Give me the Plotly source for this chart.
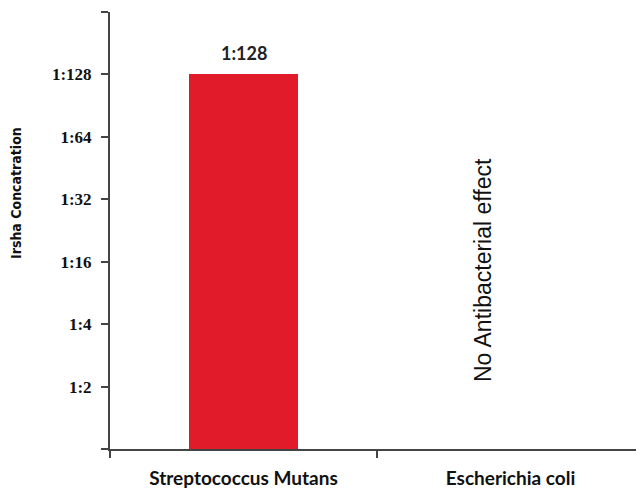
import plotly.graph_objects as go

categories = ["Streptococcus Mutans", "Escherichia coli"]
values = [6, None]
bar_labels = ["1:128", ""]
tick_positions = [0, 1, 2, 3, 4, 5, 6, 7]
tick_labels = ["", "1:2", "1:4", "1:16", "1:32", "1:64", "1:128", ""]
no_effect_text = "No Antibacterial effect"
y_title = "Irsha Concatration"

# page body has an 8px default margin; compensate so the plot area lands at
# x 110..644, y 12..449 of the window
W, H = 636, 485
ML, MT, MR, MB = 102, 4, 0, 44
PW, PH = W - ML - MR, H - MT - MB

fig = go.Figure()
fig.add_trace(go.Bar(
    x=categories, y=values, width=0.405,
    marker=dict(color="#E11B29", line=dict(width=0)),
    hoverinfo="skip",
))

fig.add_annotation(x=categories[0], y=values[0], xref="x", yref="y",
                   text="<b>" + bar_labels[0] + "</b>", showarrow=False,
                   yshift=21, font=dict(family="Lato", size=18, color="#222"))
fig.add_annotation(x=(483 - 110) / PW, y=(449 - 270) / PH, xref="paper", yref="paper",
                   text=no_effect_text, textangle=-90, showarrow=False,
                   xanchor="center", yanchor="middle",
                   font=dict(family="Liberation Sans", size=23, color="#111"))
fig.add_annotation(x=(16 - 110) / PW, y=(449 - 193) / PH, xref="paper", yref="paper",
                   text="<b>" + y_title + "</b>", textangle=-90, showarrow=False,
                   xanchor="center", yanchor="middle",
                   font=dict(family="DejaVu Sans Condensed", size=14, color="#111"))

fig.update_layout(
    width=W, height=H,
    margin=dict(l=ML, r=MR, t=MT, b=MB, autoexpand=False),
    plot_bgcolor="white", paper_bgcolor="white",
    showlegend=False, bargap=0,
    xaxis=dict(
        type="category", range=[-0.5, 1.5], tickson="boundaries",
        showline=True, linecolor="#444", linewidth=2,
        ticks="outside", ticklen=7, tickcolor="#444", tickwidth=2,
        showgrid=False, zeroline=False,
        tickfont=dict(family="Lato", size=19, color="#111"),
        tickvals=categories,
        ticktext=["<b>" + c + "</b>" for c in categories],
        ticklabelstandoff=11,
    ),
    yaxis=dict(
        range=[0, 7], tickvals=tick_positions,
        ticktext=["<b>" + t + "</b>" if t else "" for t in tick_labels],
        showline=True, linecolor="#444", linewidth=2,
        ticks="outside", ticklen=7, tickcolor="#444", tickwidth=2,
        showgrid=False, zeroline=False,
        tickfont=dict(family="Liberation Serif", size=17, color="#111"),
        ticklabelstandoff=6,
    ),
)

fig.write_html("out.html")
